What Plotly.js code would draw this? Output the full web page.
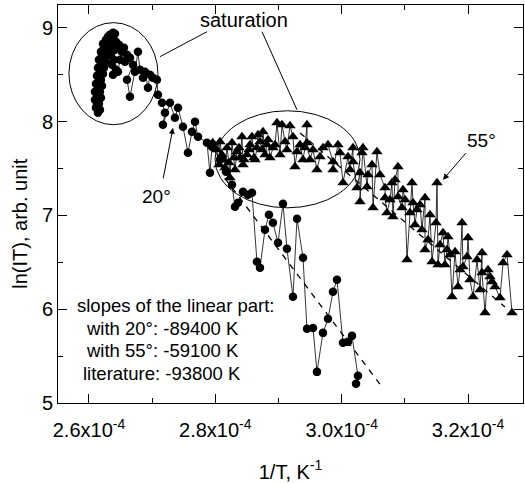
<!DOCTYPE html>
<html>
<head>
<meta charset="utf-8">
<script src="https://cdn.plot.ly/plotly-3.0.1.min.js"></script>
<style>html,body{margin:0;padding:0;background:#fff}#chart{width:525px;height:483px}</style>
</head>
<body>
<div id="chart"></div>
<script>
// x values in units of 1e-4 K^-1 (1/T), y = ln(IT)
// 20 degree series (circles)
const x20 = [2.6332,2.6301,2.6285,2.6269,2.6237,2.6222,2.6190,2.6206,2.6174,2.6190,2.6158,2.6174,
  2.6142,2.6111,2.6127,2.6095,2.6127,2.6095,2.6142,2.6111,2.6158,2.6127,2.6174,2.6142,2.6190,2.6158,2.6206,2.6190,2.6237,2.6222,2.6269,2.6301,2.6332,2.6380,2.6412,2.6380,2.6427,2.6364,2.6412,2.6348,2.6396,2.6364,2.6427,2.6380,2.6459,2.6491,2.6522,2.6475,2.6554,2.6602,2.6570,2.6649,2.6697,2.6602,2.6649,2.6728,2.6776,2.6807,2.6855,2.6886,2.6934,2.6966,2.7013,2.7076,
  2.7092,2.7156,2.7203,2.7171,2.7282,2.7361,2.7409,2.7488,2.7567,2.7631,2.7678,2.7726,2.7868,2.7915,2.7947,2.8074,2.8169,2.8264,2.8311,2.8359,2.8438,2.8517,2.8580,2.8659,2.8707,2.8786,2.8849,2.8912,2.8992,2.9071,2.9134,2.9229,2.9293,2.9388,2.9451,2.9546,2.9609,2.9704,2.9783,2.9862,2.9926,3.0021,3.0100,3.0163,3.0258,3.0227];
const y20 = [8.822,8.768,8.704,8.640,8.576,8.512,8.448,8.384,8.320,8.256,8.192,8.128,
  8.096,8.150,8.192,8.235,8.278,8.320,8.363,8.406,8.448,8.491,8.534,8.576,8.619,8.662,8.704,8.747,8.790,8.832,8.875,8.907,8.929,8.950,8.939,8.896,8.854,8.811,8.768,8.715,8.662,8.608,8.555,8.502,8.534,8.662,8.747,8.822,8.790,8.715,8.640,8.683,8.608,8.448,8.267,8.534,8.747,8.555,8.470,8.534,8.363,8.502,8.470,8.448,
  8.288,8.203,8.096,7.968,8.203,8.043,8.149,7.947,7.669,7.893,8.000,7.840,7.776,7.456,7.733,7.595,7.467,7.328,7.093,7.136,7.253,7.221,7.242,6.506,6.442,6.847,7.008,6.922,6.709,7.125,6.645,6.133,6.965,6.549,5.791,5.801,5.332,5.748,5.898,6.186,6.314,5.642,5.652,5.716,5.290,5.205];

// 55 degree series (triangles)
const x55 = [2.7960,2.8026,2.8058,2.8074,2.8105,2.8137,2.8153,2.8185,2.8216,2.8232,2.8264,2.8296,2.8311,2.8343,2.8375,2.8390,2.8422,2.8438,2.8454,2.8501,2.8533,2.8549,2.8580,2.8612,2.8628,2.8659,2.8675,2.8707,2.8739,2.8754,2.8786,2.8818,2.8834,2.8865,2.8913,2.8945,2.8976,
  2.9024,2.9055,2.9103,2.9134,2.9182,2.9229,2.9261,2.9293,2.9340,2.9388,2.9419,2.9451,2.9451,2.9498,2.9546,2.9609,2.9657,2.9704,2.9783,2.9863,2.9863,2.9942,2.9973,3.0021,3.0100,3.0132,3.0179,3.0179,3.0242,3.0290,3.0290,3.0322,3.0337,3.0401,3.0417,3.0480,3.0496,3.0559,
  3.0606,3.0686,3.0686,3.0717,3.0765,3.0796,3.0812,3.0844,3.0891,3.0891,3.0955,3.0971,3.1002,3.1034,3.1081,3.1113,3.1129,3.1161,3.1192,3.1240,3.1271,3.1319,3.1319,3.1366,3.1398,3.1430,3.1493,3.1509,3.1525,3.1556,3.1604,3.1635,3.1667,3.1683,3.1715,3.1746,3.1794,3.1841,3.1873,3.1905,3.1920,3.1984,3.2000,3.2031,3.2079,3.2142,3.2190,3.2221,3.2221,3.2269,3.2316,3.2348,3.2380,3.2427,3.2506,3.2554,3.2617,3.2696];
const y55 = [7.776,7.701,7.541,7.787,7.648,7.595,7.509,7.723,7.563,7.403,7.776,7.616,7.488,7.680,7.723,7.616,7.840,7.541,7.595,7.648,7.701,7.755,7.840,7.616,7.595,7.723,7.861,7.787,7.701,7.893,7.648,7.755,7.808,7.616,7.723,7.755,7.989,
  7.648,7.968,7.787,7.701,7.957,7.840,7.520,7.680,7.755,7.595,7.723,7.968,7.776,7.595,7.701,7.488,7.627,7.723,7.755,7.573,7.488,7.755,7.669,7.349,7.627,7.488,7.723,7.573,7.296,7.456,7.146,7.669,7.723,7.307,7.435,7.541,7.082,7.680,
  7.435,7.296,7.189,7.029,7.168,7.349,6.986,7.381,7.520,7.200,7.082,7.275,7.168,6.528,7.029,7.349,7.136,6.901,7.061,7.115,6.848,7.189,6.634,6.741,7.008,6.506,6.922,7.349,6.474,6.688,6.816,6.474,6.634,6.773,6.581,6.133,6.613,6.240,6.421,6.922,6.453,6.560,6.762,6.314,6.133,6.528,6.208,6.602,6.389,5.962,6.421,6.346,6.293,6.240,6.122,6.496,6.581,5.962];

// linear fits (dashed)
const fit20x = [2.815, 3.064];
const fit20y = [7.40, 5.17];
const fit55x = [2.934, 3.2585];
const fit55y = [7.88, 6.025];

const xTickVals = [2.6, 2.8, 3.0, 3.2];
const xTickText = ['2.6x10<sup>-4</sup>','2.8x10<sup>-4</sup>','3.0x10<sup>-4</sup>','3.2x10<sup>-4</sup>'];
const yTickVals = [5, 6, 7, 8, 9];

const slopeLines = ['slopes of the linear part:', 'with 20°: -89400 K', 'with 55°: -59100 K', 'literature: -93800 K'];

const FONT = 'Liberation Sans, Arial, Helvetica, sans-serif';

const traces = [
  {x: fit20x, y: fit20y, mode: 'lines', line: {color: '#000', width: 1.3, dash: '6px,6px'}, hoverinfo: 'skip'},
  {x: fit55x, y: fit55y, mode: 'lines', line: {color: '#000', width: 1.3, dash: '6px,6px'}, hoverinfo: 'skip'},
  {x: x55, y: y55, mode: 'lines+markers', line: {color: '#000', width: 0.8},
   marker: {symbol: 'triangle-up', size: 10, color: '#000'}},
  {x: x20, y: y20, mode: 'lines+markers', line: {color: '#000', width: 0.8},
   marker: {symbol: 'circle', size: 8.5, color: '#000'}}
];

const annFont = {family: FONT, size: 19, color: '#000'};
const annotations = [
  {x: 2.8454, y: 9.09, xref: 'x', yref: 'y', text: 'saturation', showarrow: false, font: {family: FONT, size: 20, color: '#000'}},
  {x: 2.7076, y: 7.20, xref: 'x', yref: 'y', text: '20°', showarrow: false, font: annFont},
  {x: 2.7330, y: 7.935, ax: 2.7171, ay: 7.38, xref: 'x', yref: 'y', axref: 'x', ayref: 'y', text: '', showarrow: true, arrowhead: 2, arrowsize: 1.2, arrowwidth: 1, arrowcolor: '#000'},
  {x: 3.222, y: 7.80, xref: 'x', yref: 'y', text: '55°', showarrow: false, font: annFont},
  {x: 3.1604, y: 7.381, ax: 3.1984, ay: 7.68, xref: 'x', yref: 'y', axref: 'x', ayref: 'y', text: '', showarrow: true, arrowhead: 2, arrowsize: 1.2, arrowwidth: 1, arrowcolor: '#000'},
  // y-axis title
  {x: -0.082, y: 0.45, xref: 'paper', yref: 'paper', xanchor: 'center', yanchor: 'middle', textangle: -90,
   text: 'ln(IT), arb. unit', showarrow: false, font: {family: FONT, size: 20, color: '#000'}}
];
const slopeX = [0.036, 0.056, 0.056, 0.050];
const slopeY = [0.246, 0.188, 0.133, 0.075];
slopeLines.forEach((t, i) => annotations.push({
  x: slopeX[i], y: slopeY[i], xref: 'paper', yref: 'paper', xanchor: 'left', yanchor: 'middle',
  text: t, showarrow: false, font: {family: FONT, size: 18.5, color: '#000'}
}));

const shapes = [
  {type: 'circle', xref: 'x', yref: 'y', x0: 2.5683, x1: 2.7092, y0: 7.968, y1: 9.057, line: {color: '#000', width: 1}},
  {type: 'circle', xref: 'x', yref: 'y', x0: 2.7995, x1: 3.0290, y0: 7.082, y1: 8.117, line: {color: '#000', width: 1}},
  {type: 'line', xref: 'x', yref: 'y', x0: 2.7868, y0: 8.960, x1: 2.7124, y1: 8.694, line: {color: '#000', width: 1}},
  {type: 'line', xref: 'x', yref: 'y', x0: 2.8739, y0: 8.960, x1: 2.9293, y1: 8.127, line: {color: '#000', width: 1}}
];

const layout = {
  width: 525, height: 483,
  margin: {l: 58, r: 2, t: 5, b: 80},
  paper_bgcolor: '#fff', plot_bgcolor: '#fff',
  showlegend: false,
  font: {family: FONT, size: 20, color: '#000'},
  xaxis: {
    range: [2.551, 3.287], tickvals: xTickVals, ticktext: xTickText,
    ticks: 'inside', ticklen: 9, tickwidth: 1, tickcolor: '#000',
    showline: true, linecolor: '#000', linewidth: 1, mirror: 'ticks',
    showgrid: false, zeroline: false, ticklabelstandoff: 9,
    minor: {dtick: 0.1, tick0: 2.5, ticks: 'inside', ticklen: 5, tickcolor: '#000', showgrid: false},
    tickfont: {family: FONT, size: 20, color: '#000'},
    title: {text: '1/T, K<sup>-1</sup>', font: {family: FONT, size: 20, color: '#000'}, standoff: 24}
  },
  yaxis: {
    range: [5, 9.245], tickvals: yTickVals,
    ticks: 'inside', ticklen: 9, tickwidth: 1, tickcolor: '#000',
    showline: true, linecolor: '#000', linewidth: 1, mirror: 'ticks',
    showgrid: false, zeroline: false,
    minor: {dtick: 0.5, tick0: 5, ticks: 'inside', ticklen: 5, tickcolor: '#000', showgrid: false},
    tickfont: {family: FONT, size: 20, color: '#000'}
  },
  annotations: annotations,
  shapes: shapes
};

Plotly.newPlot('chart', traces, layout, {displayModeBar: false, staticPlot: true});
</script>
</body>
</html>
